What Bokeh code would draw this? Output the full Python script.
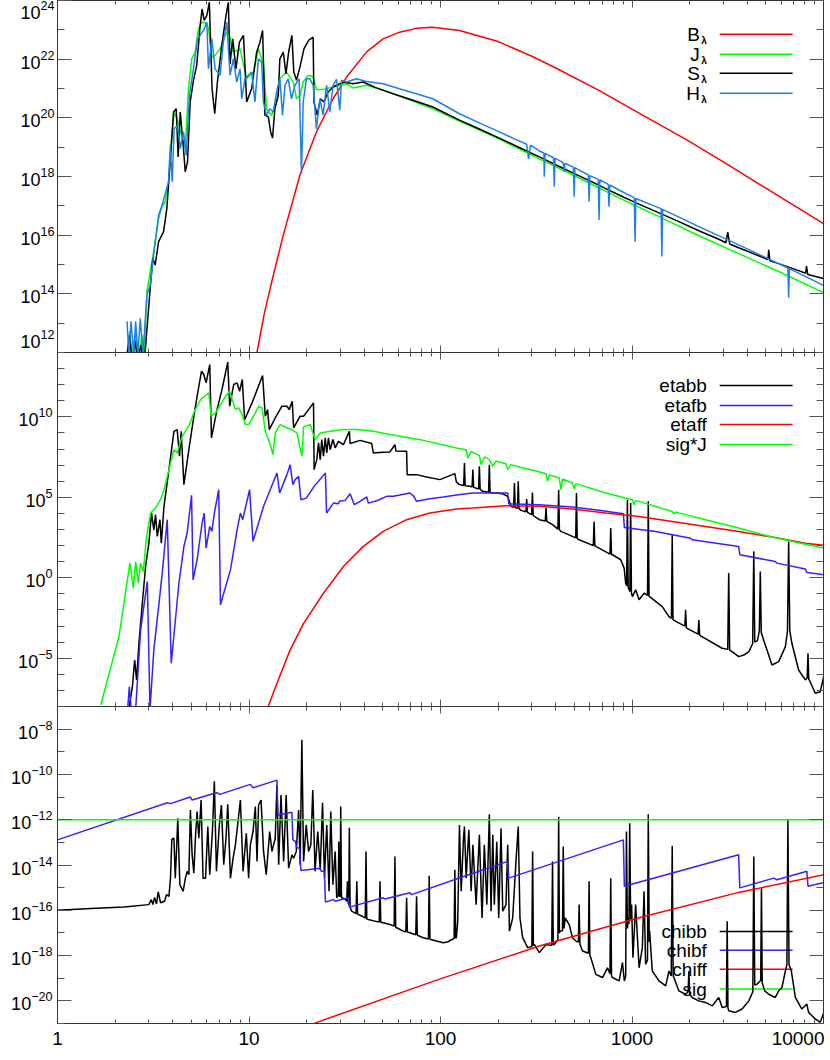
import numpy as np
from bokeh.plotting import figure
from bokeh.layouts import column
from bokeh.models import LogAxis, FixedTicker, PrintfTickFormatter, Range1d
from bokeh.embed import file_html
from bokeh.resources import INLINE
from bokeh.core.properties import value

# ---------------- data: (log10 wavelength [A], log10 value) ----------------
# Panel 1
B_LAM = [(1.020,11.2),(1.041,11.98),(1.079,13.3),(1.127,14.64),(1.179,16.0),(1.266,18.05),(1.352,19.52),
         (1.439,20.65),(1.510,21.39),(1.613,22.24),(1.700,22.69),(1.786,22.92),(1.875,23.05),(1.958,23.09),
         (2.099,22.98),(2.301,22.6),(2.477,22.1),(2.602,21.7),(2.830,20.93),(3.000,20.3),(3.288,19.24),
         (3.477,18.5),(3.699,17.6),(4.0,16.39)]

J_LAM = [(0.359,11.69),(0.377,12.72),(0.389,11.81),(0.406,12.6),(0.424,11.81),(0.441,12.6),(0.453,11.92),
         (0.467,14.08),(0.502,15.44),(0.528,16.57),(0.545,16.97),(0.563,17.14),(0.580,17.82),(0.597,19.40),
         (0.609,20.20),(0.627,19.92),(0.649,19.35),(0.667,18.95),(0.684,20.99),(0.701,22.01),(0.719,22.24),
         (0.736,23.03),(0.754,23.26),(0.771,23.24),(0.788,23.09),(0.806,22.07),(0.823,22.13),(0.849,22.35),
         (0.875,22.81),(0.892,22.98),(0.918,22.24),(0.953,22.35),(0.988,21.33),(1.023,21.56),(1.049,22.35),
         (1.075,21.84),(1.092,20.31),(1.118,20.09),(1.144,20.54),(1.161,21.33),(1.196,21.56),(1.231,21.22),
         (1.248,20.65),(1.266,20.77),(1.283,21.22),(1.309,21.45),(1.335,21.39),(1.352,20.97),(1.387,20.97),
         (1.439,21.05),(1.509,21.16),(1.543,21.02),(1.613,21.11),(1.700,20.95),(1.786,20.74),(1.960,20.31),
         (2.099,19.89),(2.307,19.28),(2.516,18.60),(2.724,17.95),(2.932,17.27),(3.141,16.63),(3.349,15.98),
         (3.557,15.37),(3.766,14.76),(4.0,14.04)]

S_LAM = [(0.354,11.47),(0.377,12.6),(0.389,11.7),(0.406,12.38),(0.418,11.7),(0.436,12.26),(0.446,11.7),
         (0.458,12.04),(0.484,14.19),(0.498,15.21),(0.510,14.98),(0.528,15.78),(0.554,16.12),(0.571,16.91),
         (0.592,18.84),(0.606,20.2),(0.620,20.31),(0.630,18.67),(0.641,20.2),(0.655,19.18),(0.667,18.16),
         (0.679,18.5),(0.693,20.54),(0.710,21.28),(0.727,21.79),(0.745,23.15),(0.755,23.71),(0.766,23.32),
         (0.780,23.49),(0.793,23.94),(0.807,21.0),(0.821,20.14),(0.835,21.22),(0.858,22.47),(0.880,23.49),
         (0.892,23.94),(0.901,21.84),(0.915,22.69),(0.932,21.67),(0.950,22.58),(0.971,22.81),(0.988,20.54),
         (1.014,21.0),(1.040,22.24),(1.057,22.58),(1.071,22.98),(1.083,20.09),(1.101,20.03),(1.113,19.52),
         (1.123,19.31),(1.135,20.31),(1.153,20.77),(1.161,22.01),(1.179,22.24),(1.193,21.5),(1.207,22.24),
         (1.224,22.81),(1.234,21.56),(1.248,21.28),(1.266,21.73),(1.287,22.35),(1.311,22.64),(1.335,22.75),
         (1.339,20.54),(1.356,20.09),(1.373,20.65),(1.391,20.54),(1.413,20.88),(1.439,21.05),(1.491,21.22),
         (1.543,21.16),(1.596,21.22),(1.665,21.02),(1.752,20.82),(1.856,20.6),(1.960,20.37),(2.099,19.92),
         (2.203,19.62),(2.307,19.31),(2.411,18.99),(2.516,18.67),(2.620,18.34),(2.724,18.02),(2.828,17.70),
         (2.932,17.37),(3.036,17.06),(3.141,16.76),(3.245,16.46),(3.349,16.15),(3.453,15.86),(3.490,15.74),
         (3.500,16.1),(3.510,15.70),(3.557,15.57),(3.661,15.30),(3.710,15.17),(3.714,15.5),(3.720,15.13),
         (3.766,15.03),(3.870,14.79),(3.907,14.70),(3.911,14.95),(3.918,14.66),(4.0,14.52)]

H_LAM = [(0.363,13.06),(0.373,11.92),(0.384,13.06),(0.398,11.92),(0.408,13.06),(0.420,11.92),(0.432,13.17),
         (0.446,11.92),(0.467,13.96),(0.484,14.30),(0.502,15.32),(0.528,16.68),(0.545,17.00),(0.580,17.82),
         (0.589,19.06),(0.599,17.82),(0.609,19.63),(0.627,19.74),(0.641,18.95),(0.658,19.52),(0.672,18.72),
         (0.689,20.77),(0.710,21.67),(0.731,22.69),(0.745,22.81),(0.766,23.03),(0.780,23.26),(0.788,21.67),
         (0.806,22.69),(0.823,21.67),(0.849,21.45),(0.866,22.58),(0.884,23.26),(0.901,21.45),(0.918,22.01),
         (0.936,21.22),(0.953,21.67),(0.962,20.65),(0.979,21.33),(0.997,21.45),(1.014,21.56),(1.031,20.54),
         (1.049,22.01),(1.066,21.90),(1.075,20.54),(1.092,20.09),(1.109,20.31),(1.127,20.20),(1.144,20.88),
         (1.161,21.33),(1.175,20.09),(1.188,21.11),(1.205,21.33),(1.222,20.65),(1.240,21.11),(1.262,21.33),
         (1.274,18.10),(1.283,20.54),(1.300,21.33),(1.318,21.33),(1.335,21.11),(1.352,19.63),(1.370,20.65),
         (1.387,20.09),(1.405,21.11),(1.422,20.20),(1.439,21.11),(1.457,21.31),(1.474,20.26),(1.483,21.28),
         (1.509,21.22),(1.561,21.33),(1.613,21.24),(1.700,21.16),(1.786,20.99),(1.960,20.65),(2.099,20.14),
         (2.203,19.83),(2.307,19.52),(2.400,19.24),(2.450,19.10),(2.460,18.60),(2.470,19.07),(2.516,18.87),
         (2.540,18.80),(2.542,17.99),(2.546,18.79),(2.590,18.64),(2.594,17.65),(2.598,18.62),(2.640,18.48),
         (2.646,18.16),(2.650,18.45),(2.694,18.32),(2.698,17.31),(2.702,18.30),(2.724,18.22),(2.772,18.05),
         (2.776,17.14),(2.780,18.03),(2.824,17.90),(2.828,16.52),(2.832,17.88),(2.876,17.73),(2.880,16.97),
         (2.884,17.71),(2.932,17.54),(3.012,17.27),(3.016,15.78),(3.020,17.25),(3.141,16.93),(3.152,16.90),
         (3.156,15.27),(3.160,16.88),(3.349,16.29),(3.557,15.67),(3.766,15.03),(3.814,14.88),(3.818,13.87),
         (3.822,14.86),(4.0,14.29)]

# Panel 2
ETABB = [(0.373,-8.11),(0.391,-6.77),(0.403,-5.11),(0.413,-6.35),(0.425,-4.07),(0.443,-1.58),(0.460,0.70),
         (0.477,2.15),(0.491,4.02),(0.503,2.98),(0.512,3.92),(0.521,2.57),(0.535,3.61),(0.542,2.15),(0.556,4.44),
         (0.582,6.72),(0.608,9.10),(0.625,9.21),(0.637,7.55),(0.646,9.10),(0.660,5.79),(0.686,7.96),(0.712,10.04),
         (0.729,11.28),(0.752,12.84),(0.764,12.63),(0.776,12.11),(0.795,13.25),(0.804,8.69),(0.833,10.45),
         (0.859,11.70),(0.889,13.40),(0.899,10.66),(0.920,12.01),(0.938,12.11),(0.951,11.59),(0.965,12.32),
         (0.977,9.83),(1.016,10.87),(1.071,12.57),(1.085,10.04),(1.097,10.45),(1.106,9.21),(1.137,9.93),
         (1.172,10.66),(1.198,10.66),(1.210,10.45),(1.226,10.97),(1.233,9.31),(1.267,10.04),(1.285,10.04),
         (1.337,10.87),(1.340,6.72),(1.354,7.34),(1.363,8.38),(1.372,7.34),(1.380,8.59),(1.389,7.55),(1.398,8.69),
         (1.406,7.76),(1.415,8.69),(1.424,7.96),(1.438,8.59),(1.450,8.07),(1.467,8.48),(1.493,8.27),(1.524,9.10),
         (1.528,8.34),(1.580,8.54),(1.641,8.34),(1.649,7.76),(1.701,7.80),(1.736,7.82),(1.762,8.27),(1.767,7.88),
         (1.823,7.86),(1.826,6.41),(1.875,6.41),(1.927,6.26),(1.997,6.10),(2.075,6.47),(2.083,5.95),(2.099,5.79),
         (2.121,5.74),(2.125,7.13),(2.129,5.72),(2.143,5.70),(2.165,5.65),(2.169,6.72),(2.173,5.62),(2.199,5.52),
         (2.203,6.93),(2.207,5.50),(2.221,5.37),(2.251,5.32),(2.255,7.03),(2.259,5.30),(2.273,5.28),(2.325,5.22),
         (2.351,5.06),(2.368,4.44),(2.382,4.38),(2.386,5.89),(2.390,4.36),(2.398,4.33),(2.402,4.32),(2.406,5.99),
         (2.410,4.30),(2.420,4.19),(2.446,4.10),(2.450,4.90),(2.454,4.07),(2.476,3.92),(2.480,5.30),(2.484,3.87),
         (2.516,3.61),(2.547,3.53),(2.551,4.33),(2.555,3.51),(2.585,3.30),(2.613,3.02),(2.617,5.47),(2.621,2.98),
         (2.629,2.88),(2.689,2.57),(2.706,2.48),(2.710,5.27),(2.714,2.44),(2.724,2.36),(2.798,2.00),(2.802,3.50),
         (2.806,1.98),(2.811,1.95),(2.885,1.47),(2.889,3.09),(2.893,1.45),(2.898,1.43),(2.941,1.12),(2.959,0.60),
         (2.967,-0.34),(2.972,-0.50),(2.976,4.85),(2.980,-0.60),(2.989,-0.85),(2.993,4.64),(2.997,-0.95),
         (3.002,-1.17),(3.019,-0.75),(3.037,-1.37),(3.063,-0.96),(3.081,-1.10),(3.085,4.75),(3.089,-1.15),
         (3.092,-1.17),(3.158,-1.79),(3.193,-2.41),(3.206,-2.52),(3.210,2.67),(3.214,-2.60),(3.231,-2.72),
         (3.276,-3.00),(3.280,-1.99),(3.284,-3.10),(3.288,-3.14),(3.345,-3.50),(3.349,-2.62),(3.353,-3.55),
         (3.358,-3.61),(3.471,-4.38),(3.500,-4.45),(3.505,0.29),(3.510,-4.50),(3.523,-4.59),(3.557,-4.90),
         (3.584,-4.80),(3.610,-4.59),(3.630,-4.10),(3.636,1.64),(3.641,-4.00),(3.655,-3.90),(3.665,-3.30),
         (3.670,0.39),(3.675,-3.40),(3.688,-3.90),(3.705,-4.49),(3.731,-5.42),(3.766,-5.21),(3.801,-4.28),
         (3.812,-3.30),(3.818,2.26),(3.824,-3.30),(3.835,-4.07),(3.870,-5.73),(3.905,-6.35),(3.915,-6.20),
         (3.919,-4.69),(3.923,-6.30),(3.926,-6.35),(3.957,-7.18),(3.983,-7.08),(4.005,-5.94)]

ETAFB = [(0.366,-8.2),(0.375,-6.77),(0.385,-8.2),(0.408,-8.2),(0.434,-3.24),(0.469,-0.23),(0.483,-8.2),
         (0.503,-4.48),(0.530,-1.58),(0.547,0.29),(0.573,3.61),(0.594,-5.31),(0.634,-0.34),(0.660,1.95),
         (0.677,2.78),(0.700,5.12),(0.708,-0.13),(0.729,1.12),(0.755,3.40),(0.766,4.02),(0.776,1.84),(0.795,3.19),
         (0.806,2.88),(0.819,4.02),(0.842,5.47),(0.851,-1.68),(0.903,0.49),(0.938,2.98),(0.955,4.02),(0.967,3.61),
         (1.003,5.47),(1.021,2.26),(1.076,4.44),(1.146,6.51),(1.160,5.27),(1.198,6.41),(1.215,7.03),(1.229,5.79),
         (1.241,6.10),(1.259,6.30),(1.271,4.85),(1.299,4.95),(1.340,5.68),(1.399,6.51),(1.405,4.02),(1.441,4.64),
         (1.467,4.60),(1.472,4.75),(1.502,4.81),(1.528,5.22),(1.550,4.54),(1.580,4.75),(1.615,5.02),(1.623,4.64),
         (1.667,4.79),(1.719,5.06),(1.753,5.06),(1.788,5.14),(1.840,5.27),(1.861,5.06),(1.875,4.75),(1.944,4.91),
         (2.014,5.02),(2.083,5.14),(2.169,5.27),(2.351,5.27),(2.356,4.60),(2.516,4.54),(2.689,4.40),(2.828,4.19),
         (2.955,3.98),(2.960,3.13),(3.123,2.88),(3.306,2.46),(3.314,2.36),(3.557,1.95),(3.563,1.43),(3.748,1.01),
         (3.757,0.91),(3.905,0.54),(3.913,0.33),(4.005,0.18)]

ETAFF = [(1.097,-8.11),(1.146,-6.56),(1.215,-4.48),(1.285,-2.83),(1.389,-0.96),(1.493,0.70),(1.597,1.95),
         (1.701,2.88),(1.823,3.61),(1.944,4.02),(2.083,4.27),(2.169,4.33),(2.342,4.48),(2.516,4.44),(2.689,4.27),
         (2.863,4.02),(3.037,3.81),(3.210,3.50),(3.384,3.19),(3.557,2.88),(3.731,2.53),(3.905,2.15),(4.005,2.01)]

SIGJ = [(0.226,-7.91),(0.321,-3.65),(0.378,0.91),(0.396,-0.65),(0.408,1.01),(0.422,-0.34),(0.434,0.91),
        (0.448,0.39),(0.465,2.57),(0.486,4.02),(0.512,4.33),(0.538,4.85),(0.556,5.47),(0.582,6.72),(0.608,7.96),
        (0.625,7.76),(0.651,8.79),(0.686,9.42),(0.715,10.35),(0.747,11.07),(0.790,11.49),(0.802,10.04),
        (0.825,10.25),(0.851,10.76),(0.877,11.28),(0.899,11.59),(0.929,10.45),(0.946,10.56),(0.964,10.14),
        (0.981,9.52),(0.998,9.52),(1.033,10.25),(1.050,10.66),(1.068,10.56),(1.085,9.10),(1.111,8.27),
        (1.125,7.65),(1.137,9.00),(1.163,9.52),(1.198,9.31),(1.224,9.21),(1.250,9.00),(1.276,7.55),(1.285,9.37),
        (1.319,9.52),(1.345,8.59),(1.372,9.00),(1.424,9.10),(1.493,9.21),(1.563,9.21),(1.649,9.10),(1.736,8.90),
        (1.910,8.54),(2.083,8.07),(2.134,7.96),(2.143,7.44),(2.160,7.86),(2.203,7.59),(2.212,7.03),(2.229,7.51),
        (2.255,7.34),(2.273,6.93),(2.290,7.24),(2.342,7.09),(2.351,6.72),(2.368,7.03),(2.429,6.82),(2.485,6.68),
        (2.551,6.47),(2.559,6.00),(2.568,6.39),(2.620,6.20),(2.629,5.47),(2.637,6.14),(2.689,5.89),(2.698,5.52),
        (2.707,5.85),(2.863,5.27),(3.002,4.85),(3.011,4.54),(3.019,4.81),(3.210,4.12),(3.219,3.98),(3.228,4.08),
        (3.384,3.61),(3.557,3.09),(3.731,2.53),(3.905,2.09),(4.005,1.84)]

# Panel 3
CHIBB = [(0.0,-16.00),(0.174,-15.92),(0.347,-15.85),(0.477,-15.75),(0.490,-15.53),(0.498,-15.75),(0.507,-15.43),
         (0.517,-15.72),(0.526,-15.19),(0.538,-15.67),(0.559,-15.60),(0.569,-15.31),(0.582,-15.38),(0.590,-14.58),
         (0.597,-12.86),(0.608,-12.82),(0.615,-14.58),(0.622,-13.26),(0.628,-11.94),(0.639,-14.87),(0.656,-15.16),
         (0.668,-14.58),(0.677,-14.28),(0.686,-14.43),(0.694,-11.57),(0.703,-13.55),(0.712,-14.36),(0.720,-12.82),
         (0.729,-11.64),(0.738,-12.82),(0.750,-11.13),(0.760,-14.58),(0.773,-14.58),(0.785,-12.30),(0.795,-14.43),
         (0.809,-12.52),(0.819,-10.30),(0.830,-14.28),(0.845,-12.23),(0.856,-11.35),(0.868,-13.99),(0.880,-12.82),
         (0.889,-11.32),(0.903,-14.58),(0.917,-13.70),(0.929,-13.11),(0.955,-11.13),(0.969,-14.28),(0.986,-12.60),
         (0.998,-14.58),(1.007,-13.11),(1.021,-12.52),(1.033,-11.42),(1.042,-13.84),(1.050,-11.35),(1.063,-11.13),
         (1.076,-13.40),(1.090,-14.43),(1.108,-12.52),(1.120,-13.40),(1.137,-12.82),(1.146,-10.47),(1.155,-13.99),
         (1.167,-10.91),(1.181,-13.84),(1.194,-10.91),(1.207,-14.14),(1.224,-13.55),(1.233,-13.70),(1.247,-13.40),
         (1.259,-11.57),(1.267,-13.99),(1.276,-8.47),(1.285,-13.84),(1.299,-12.23),(1.311,-13.40),(1.323,-13.11),
         (1.333,-10.69),(1.345,-14.28),(1.359,-12.52),(1.372,-14.21),(1.384,-11.25),(1.394,-14.58),(1.406,-12.23),
         (1.418,-15.16),(1.427,-11.64),(1.438,-14.87),(1.450,-13.40),(1.458,-15.45),(1.466,-15.35),(1.469,-12.96),
         (1.472,-15.35),(1.476,-15.40),(1.479,-11.42),(1.483,-15.45),(1.502,-15.50),(1.510,-15.60),(1.514,-14.72),
         (1.518,-15.70),(1.521,-15.75),(1.524,-12.35),(1.528,-15.85),(1.536,-16.04),(1.559,-16.15),(1.563,-14.72),
         (1.567,-16.17),(1.589,-16.25),(1.607,-16.35),(1.611,-13.40),(1.615,-16.38),(1.623,-16.41),(1.667,-16.50),
         (1.680,-16.52),(1.684,-14.72),(1.688,-16.53),(1.701,-16.55),(1.736,-16.63),(1.758,-16.70),(1.762,-13.62),
         (1.766,-16.75),(1.806,-16.92),(1.819,-16.95),(1.823,-15.45),(1.827,-16.96),(1.840,-16.99),(1.871,-17.08),
         (1.875,-15.38),(1.879,-17.10),(1.910,-17.21),(1.937,-17.27),(1.941,-14.47),(1.945,-17.28),(1.979,-17.36),
         (2.014,-17.43),(2.040,-17.39),(2.057,-17.30),(2.071,-17.25),(2.075,-14.21),(2.079,-17.22),(2.083,-17.21),
         (2.090,-16.48),(2.099,-12.23),(2.108,-15.16),(2.120,-12.82),
         (2.125,-12.30),(2.134,-14.58),(2.148,-12.45),(2.160,-15.16),(2.169,-13.11),(2.186,-15.75),(2.203,-12.67),
         (2.217,-16.34),(2.229,-13.11),(2.242,-15.75),(2.255,-11.76),(2.264,-16.04),(2.273,-12.67),(2.281,-15.75),
         (2.294,-12.97),(2.304,-16.34),(2.316,-12.38),(2.325,-16.04),(2.342,-15.75),(2.351,-13.11),(2.360,-16.92),
         (2.377,-16.34),(2.394,-13.85),(2.406,-12.30),(2.415,-16.34),(2.429,-17.21),(2.455,-17.65),(2.477,-17.60),
         (2.481,-13.40),(2.485,-17.55),(2.490,-17.51),(2.516,-17.87),(2.551,-17.51),(2.581,-17.55),(2.585,-13.85),
         (2.589,-17.52),(2.594,-17.51),(2.613,-17.30),(2.617,-11.87),(2.621,-17.0),(2.624,-16.92),(2.637,-16.90),
         (2.641,-13.18),(2.645,-16.80),(2.651,-16.34),(2.672,-16.63),(2.689,-17.21),(2.707,-17.36),(2.720,-17.40),
         (2.724,-15.75),(2.728,-17.50),(2.742,-17.80),(2.772,-17.90),(2.776,-14.72),(2.780,-18.00),(2.785,-18.09),
         (2.811,-18.83),(2.846,-18.97),(2.872,-18.54),(2.885,-18.80),(2.889,-14.58),(2.893,-18.90),(2.898,-18.97),
         (2.933,-19.12),(2.950,-18.31),(2.960,-19.12),(2.967,-18.90),(2.971,-12.52),(2.976,-16.80),(2.981,-16.34),
         (2.984,-16.60),(2.988,-12.16),(2.993,-16.40),(2.998,-15.75),(3.005,-18.09),(3.019,-15.75),(3.037,-18.54),
         (3.054,-17.65),(3.063,-15.16),(3.071,-18.38),(3.081,-18.20),(3.085,-11.76),(3.090,-17.40),(3.092,-16.92),
         (3.106,-18.68),(3.141,-19.12),(3.176,-19.34),(3.193,-18.68),(3.205,-18.90),(3.210,-13.15),(3.215,-18.90),
         (3.219,-18.97),(3.245,-19.56),(3.280,-19.71),(3.293,-19.60),(3.297,-18.68),(3.301,-19.70),(3.314,-19.85),
         (3.349,-20.00),(3.384,-20.07),(3.419,-20.22),(3.453,-19.85),(3.471,-20.29),(3.493,-20.25),(3.497,-16.48),
         (3.501,-20.30),(3.505,-20.44),(3.540,-20.51),(3.575,-20.36),(3.610,-20.00),(3.631,-19.60),(3.636,-13.62),
         (3.641,-19.30),(3.653,-19.26),(3.672,-19.10),(3.676,-15.01),(3.680,-19.20),(3.693,-19.56),(3.714,-19.71),
         (3.748,-19.85),(3.766,-19.56),(3.783,-19.41),(3.801,-18.68),(3.809,-18.40),(3.814,-12.01),(3.820,-18.40),
         (3.832,-18.68),(3.853,-19.85),(3.887,-20.36),(3.913,-20.14),(3.922,-20.51),(3.957,-20.80),(3.983,-20.95),
         (4.005,-20.44)]

CHIBF = [(0.0,-12.89),(0.573,-11.25),(0.590,-11.29),(0.694,-11.00),(0.703,-11.13),(0.833,-10.80),(0.847,-10.88),
         (1.007,-10.44),(1.021,-10.59),(1.146,-10.25),(1.151,-11.79),(1.224,-11.67),(1.229,-12.89),(1.243,-12.96),
         (1.247,-13.23),(1.264,-13.26),(1.271,-14.24),(1.372,-14.14),(1.377,-14.28),(1.394,-14.28),(1.399,-15.63),
         (1.441,-15.53),(1.450,-15.60),(1.519,-15.45),(1.524,-15.86),(1.701,-15.45),(1.710,-15.50),(1.840,-15.23),
         (1.849,-15.31),(2.083,-14.62),(2.351,-13.84),(2.356,-14.58),(2.955,-12.89),(2.960,-14.94),(3.557,-13.55),
         (3.563,-15.01),(3.740,-14.58),(3.757,-14.65),(3.913,-14.28),(3.919,-14.94),(4.005,-14.77)]

CHIFF = [(1.300,-21.15),(1.354,-20.95),(1.995,-19.04),(2.516,-17.58),(3.037,-16.33),(3.557,-15.21),(4.005,-14.43)]

SIG = [(0.0,-12.0),(4.005,-12.0)]

# ---------------- styling ----------------
FONT = "Liberation Sans"
RED, GREEN, BLACK = "#ff0000", "#00ff00", "#000000"
HBLUE, BLUE = "#1e80e6", "#3322ff"
LW = 1.5

XMAJ = [1, 10, 100, 1000, 10000]
XMIN = [m * 10 ** d for d in range(4) for m in range(2, 10)]

LEG_XT, LEG_X0, LEG_X1 = 2460, 2870, 6900


def xy(pts):
    lx, ly = zip(*pts)
    return 10 ** np.array(lx), 10 ** np.array(ly)


def hide_labels(ax):
    ax.major_label_text_font_size = "1px"
    ax.major_label_text_alpha = 0
    ax.major_label_standoff = 0


def make_panel(ylo, yhi, ymaj, ymin, fh, bottom, xlabels):
    p = figure(x_axis_type="log", y_axis_type="log",
               x_range=Range1d(1, 1e4), y_range=Range1d(ylo, yhi),
               frame_width=766, frame_height=fh,
               min_border_left=57, min_border_right=1, min_border_top=0, min_border_bottom=bottom,
               output_backend="svg", toolbar_location=None)
    p.grid.visible = False
    p.outline_line_color = None
    p.add_layout(LogAxis(), "right")
    p.add_layout(LogAxis(), "above")
    for ax in list(p.xaxis) + list(p.yaxis):
        ax.axis_line_color = "#333333"
        ax.major_tick_line_color = "#555555"
        ax.minor_tick_line_color = "#555555"
        ax.major_tick_out = 0
        ax.minor_tick_out = 0
        ax.major_label_text_font = FONT
        hide_labels(ax)
    for ax in p.xaxis:
        ax.ticker = FixedTicker(ticks=XMAJ, minor_ticks=XMIN)
        ax.major_tick_in = 7
        ax.minor_tick_in = 4
    for ax in p.yaxis:
        ax.ticker = FixedTicker(ticks=ymaj, minor_ticks=ymin)
        ax.major_tick_in = 14
        ax.minor_tick_in = 7
    left = p.left[0]
    left.major_label_text_font_size = "18px"
    left.major_label_text_alpha = 1
    left.major_label_text_color = "black"
    left.major_label_standoff = 5
    if xlabels:
        b = p.below[0]
        b.formatter = PrintfTickFormatter(format="%d")
        b.major_label_text_font_size = "19px"
        b.major_label_text_alpha = 1
        b.major_label_text_color = "black"
        b.major_label_standoff = 8
    return p


def legend(p, ys, labels, colors, sub=False):
    for yv, lab, c in zip(ys, labels, colors):
        p.segment(x0=[LEG_X0], y0=[yv], x1=[LEG_X1], y1=[yv], line_color=c, line_width=LW)
        if sub:
            p.text(x=[LEG_XT], y=[yv], text=["λ"], text_align="right", text_baseline="middle",
                   text_font=value(FONT), text_font_size="10px", text_font_style="bold",
                   y_offset=6, text_color="black")
            p.text(x=[LEG_XT], y=[yv], text=[lab], text_align="right", text_baseline="middle",
                   text_font=value(FONT), text_font_size="19px", x_offset=-7, text_color="black")
        else:
            p.text(x=[LEG_XT], y=[yv], text=[lab], text_align="right", text_baseline="middle",
                   text_font=value(FONT), text_font_size="19px", text_color="black")


# Panel 1: the left axis draws ticks only; a second, tick-less left axis draws the labels,
# with the bottom "10^12" label lifted a few pixels so it is not cut by the panel edge.
p1 = make_panel(1e12, 1e24, [10.0 ** e for e in range(12, 25, 2)], [10.0 ** e for e in range(13, 24, 2)],
                352, 0, False)
hide_labels(p1.left[0])
lab_axis = LogAxis(ticker=FixedTicker(ticks=[10 ** 12.48] + [10.0 ** e for e in range(14, 25, 2)], minor_ticks=[]),
                   axis_line_color=None, major_tick_in=0, major_tick_out=0, minor_tick_in=0, minor_tick_out=0,
                   major_label_text_font=FONT, major_label_text_font_size="18px",
                   major_label_text_color="black", major_label_standoff=3)
p1.add_layout(lab_axis, "left")
legend(p1, [7.08e22, 1.48e22, 3.31e21, 6.92e20], ["B", "J", "S", "H"], [RED, GREEN, BLACK, HBLUE], sub=True)
for pts, c in [(B_LAM, RED), (J_LAM, GREEN), (S_LAM, BLACK), (H_LAM, HBLUE)]:
    x, y = xy(pts)
    p1.line(x, y, line_color=c, line_width=LW)

# Panel 2
p2 = make_panel(1e-8, 1e14, [1e-5, 1e0, 1e5, 1e10],
                [10.0 ** e for e in range(-8, 15) if e % 5 != 0], 354, 0, False)
legend(p2, [8.9e11, 5.0e10, 3.3e9, 1.9e8], ["etabb", "etafb", "etaff", "sig*J"], [BLACK, BLUE, RED, GREEN])
for pts, c in [(ETABB, BLACK), (ETAFB, BLUE), (ETAFF, RED), (SIGJ, GREEN)]:
    x, y = xy(pts)
    p2.line(x, y, line_color=c, line_width=LW)

# Panel 3
p3 = make_panel(1e-21, 1e-7, [10.0 ** e for e in range(-20, -7, 2)], [10.0 ** e for e in range(-21, -6, 2)],
                317, 34, True)
legend(p3, [1.17e-17, 1.7e-18, 2.5e-19, 3.3e-20], ["chibb", "chibf", "chiff", "sig"], [BLACK, BLUE, RED, GREEN])
for pts, c in [(CHIBB, BLACK), (CHIBF, BLUE), (CHIFF, RED), (SIG, GREEN)]:
    x, y = xy(pts)
    p3.line(x, y, line_color=c, line_width=LW)

layout = column(p1, p2, p3, spacing=0)
open("out.html", "w").write(file_html(layout, INLINE))
